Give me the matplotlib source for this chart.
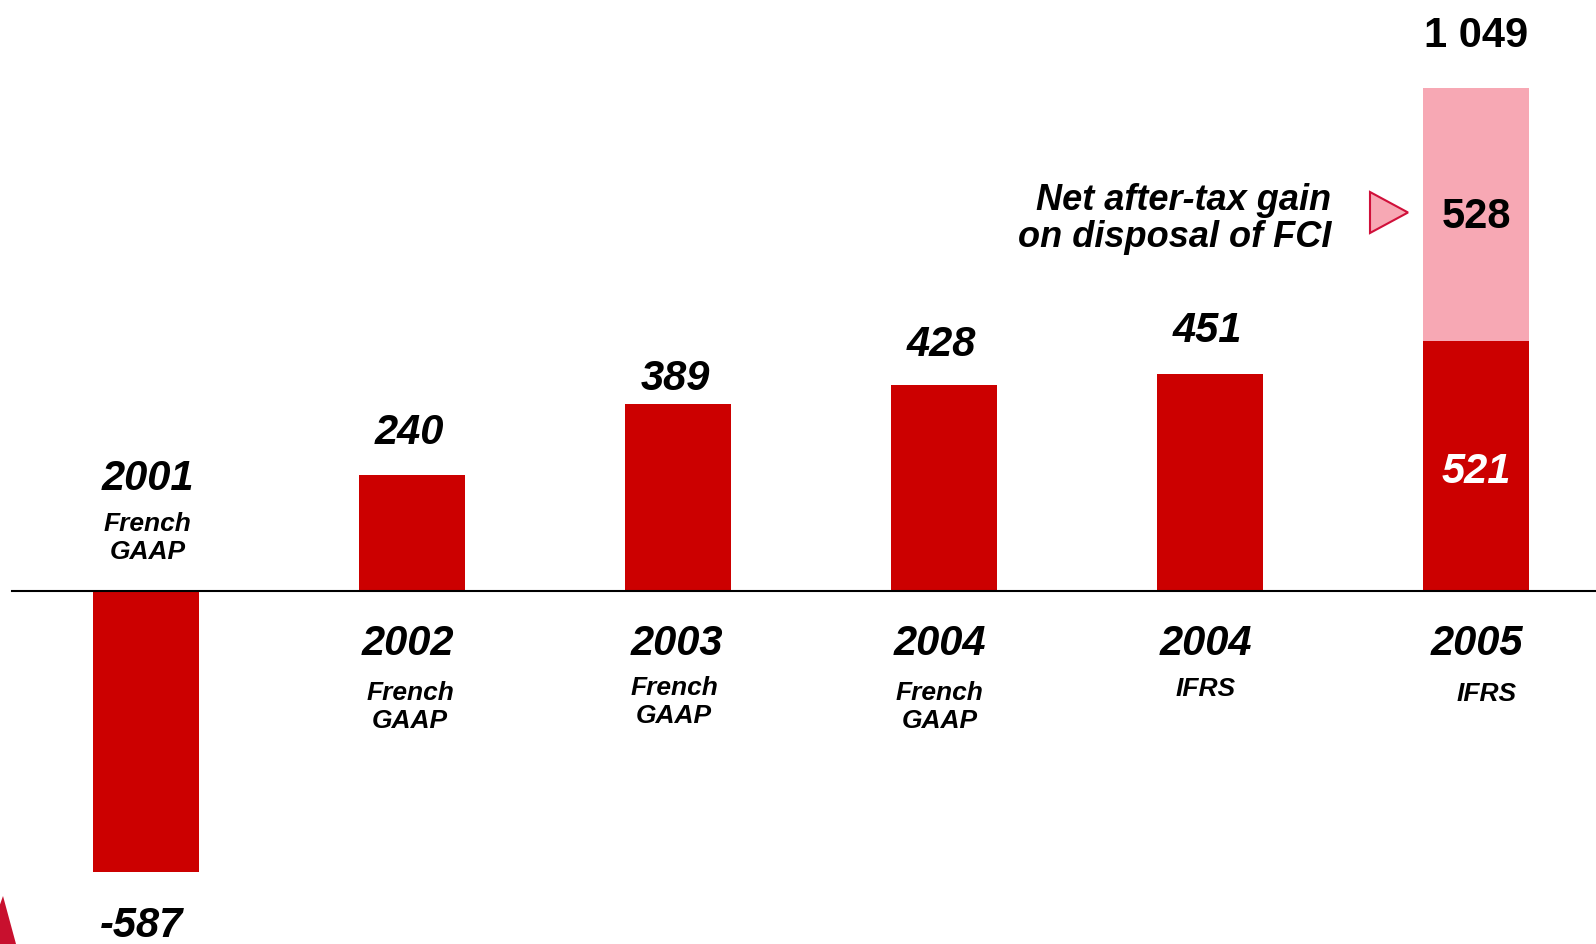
import numpy as np
import matplotlib.pyplot as plt
from matplotlib.patches import Polygon

plt.rcParams['font.family'] = ['Liberation Sans', 'DejaVu Sans']

# net income, EUR m
years = ['2001', '2002', '2003', '2004', '2004', '2005']
gaap = ['French\nGAAP', 'French\nGAAP', 'French\nGAAP', 'French\nGAAP', 'IFRS', 'IFRS']
net_income = [-587, 240, 389, 428, 451, 521]
fci_gain = [0, 0, 0, 0, 0, 528]
total_2005 = net_income[5] + fci_gain[5]

RED = '#cc0000'
PINK = '#f7a8b4'
CRIMSON = '#d0103a'

W, H, DPI = 1596, 945, 100
fig = plt.figure(figsize=(W / DPI, H / DPI), dpi=DPI)
ax = fig.add_axes([0, 0, 1, 1])
ax.set_axis_off()

# pixel layout -> data limits
step = 266.1
x0 = 145.6
ax.set_xlim(-x0 / step, (W - x0) / step)
base = 591.5
ppu = 0.4795
ax.set_ylim(-(H - base) / ppu, base / ppu)

x = np.arange(len(years))
bw = 0.398
ax.bar(x, net_income, width=bw, color=RED, zorder=2)
ax.bar(x, fci_gain, width=bw, bottom=net_income, color=PINK, zorder=2)
ax.plot([(12.2 - x0) / step, 10], [0, 0], color='black', lw=1.5, zorder=3)

bi = dict(fontweight='bold', fontstyle='italic', ha='center', va='center')

# value labels above / below bars
val_off = [-38.5, 31.5, 19, 30, 31.5]
for i in range(5):
    ax.annotate(f'{net_income[i]}', xy=(x[i], net_income[i]), xytext=(-3 if i == 0 else -2, val_off[i]),
                textcoords='offset points', fontsize=30, **bi)

# 2005 stacked bar labels
ax.annotate(f'{net_income[5]}', xy=(x[5], net_income[5] / 2), xytext=(0, -4),
            textcoords='offset points', color='white', fontsize=30, **bi)
ax.annotate(f'{fci_gain[5]}', xy=(x[5], net_income[5] + fci_gain[5] / 2), xytext=(0, -1.5),
            textcoords='offset points', fontsize=30, fontweight='bold', ha='center', va='center')
ax.annotate(f'{total_2005 // 1000} {total_2005 % 1000:03d}', xy=(x[5], total_2005), xytext=(0, 37.5),
            textcoords='offset points', fontsize=30, fontweight='bold', ha='center', va='center')

# year / accounting standard labels (pixel positions from top)
def px(xp, yp):
    return ((xp - x0) / step, (base - yp) / ppu)

year_pos = [(147.6, 479), (408, 644), (677, 644), (939.5, 644), (1206, 644), (1477, 644)]
gaap_pos = [(147.6, 538), (410, 707), (674, 702), (939.5, 707), (1206, 689), (1487, 694)]
for i in range(len(years)):
    ax.text(*px(*year_pos[i]), years[i], fontsize=30, **bi)
    ax.text(*px(*gaap_pos[i]), gaap[i], fontsize=19, linespacing=1.2, **bi)

# annotation for the FCI disposal gain
ax.text(*px(1331, 219), 'Net after-tax gain\non disposal of FCI', fontsize=26, linespacing=1.1,
        fontweight='bold', fontstyle='italic', ha='right', va='center')
tri = [px(1370, 193), px(1408, 213.5), px(1370, 234)]
ax.add_patch(Polygon(tri, closed=True, facecolor=PINK, edgecolor=CRIMSON, lw=1.5, zorder=4))

# corner mark
corner = [(-14 / W, 0), (3 / W, (H - 897) / H), (16 / W, 0)]
fig.patches.append(Polygon(corner, closed=True, transform=fig.transFigure,
                           facecolor='#c8102e', edgecolor='none'))

fig.savefig('out.png', dpi=DPI)
